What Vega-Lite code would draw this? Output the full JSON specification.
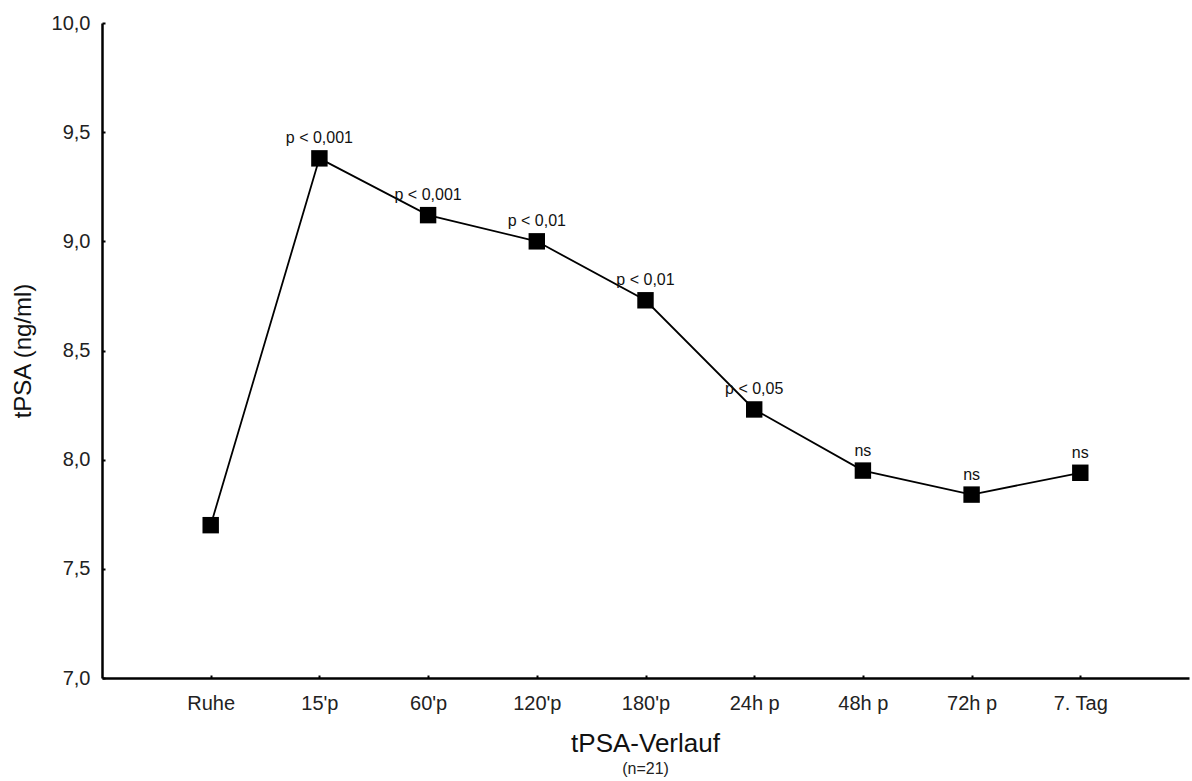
{
  "$schema": "https://vega.github.io/schema/vega-lite/v6.json",
  "width": 1087,
  "height": 655,
  "autosize": "none",
  "padding": {"left": 102, "top": 23, "right": 3, "bottom": 103},
  "background": "white",
  "config": {"view": {"stroke": null}, "font": "Liberation Sans"},
  "title": {"text": "tPSA-Verlauf", "subtitle": "(n=21)", "orient": "bottom", "anchor": "middle", "fontSize": 26, "fontWeight": "normal", "color": "#111", "subtitleFontSize": 16, "subtitleColor": "#222", "offset": 18, "subtitlePadding": 4},
  "data": {"values": [
    {"zeit": "Ruhe", "tpsa": 7.70, "sig": ""},
    {"zeit": "15'p", "tpsa": 9.38, "sig": "p < 0,001"},
    {"zeit": "60'p", "tpsa": 9.12, "sig": "p < 0,001"},
    {"zeit": "120'p", "tpsa": 9.00, "sig": "p < 0,01"},
    {"zeit": "180'p", "tpsa": 8.73, "sig": "p < 0,01"},
    {"zeit": "24h p", "tpsa": 8.23, "sig": "p < 0,05"},
    {"zeit": "48h p", "tpsa": 7.95, "sig": "ns"},
    {"zeit": "72h p", "tpsa": 7.84, "sig": "ns"},
    {"zeit": "7. Tag", "tpsa": 7.94, "sig": "ns"}
  ]},
  "encoding": {
    "x": {"field": "zeit", "type": "ordinal", "sort": null,
      "scale": {"type": "point", "padding": 1},
      "axis": {"title": null, "labelAngle": 0, "labelFontSize": 20, "labelColor": "#222", "labelPadding": 18, "domainColor": "black", "domainWidth": 2.5, "tickColor": "black", "tickSize": -3, "tickWidth": 2, "grid": false}},
    "y": {"field": "tpsa", "type": "quantitative",
      "scale": {"domain": [7, 10], "nice": false, "zero": false},
      "axis": {"title": "tPSA (ng/ml)", "titleFontSize": 24, "titleFontWeight": "normal", "titleColor": "#111", "titlePadding": 16, "values": [7, 7.5, 8, 8.5, 9, 9.5, 10], "labelExpr": "replace(format(datum.value, '.1f'), '.', ',')", "labelFontSize": 20, "labelColor": "#222", "labelPadding": 15, "domainColor": "black", "domainWidth": 2.5, "tickColor": "black", "tickSize": -3, "tickWidth": 2, "grid": false}}
  },
  "layer": [
    {"mark": {"type": "line", "color": "black", "strokeWidth": 1.8}},
    {"mark": {"type": "point", "shape": "square", "filled": true, "color": "black", "size": 270, "opacity": 1}},
    {"mark": {"type": "text", "dy": -20, "fontSize": 16, "color": "#111"}, "encoding": {"text": {"field": "sig"}}}
  ]
}
